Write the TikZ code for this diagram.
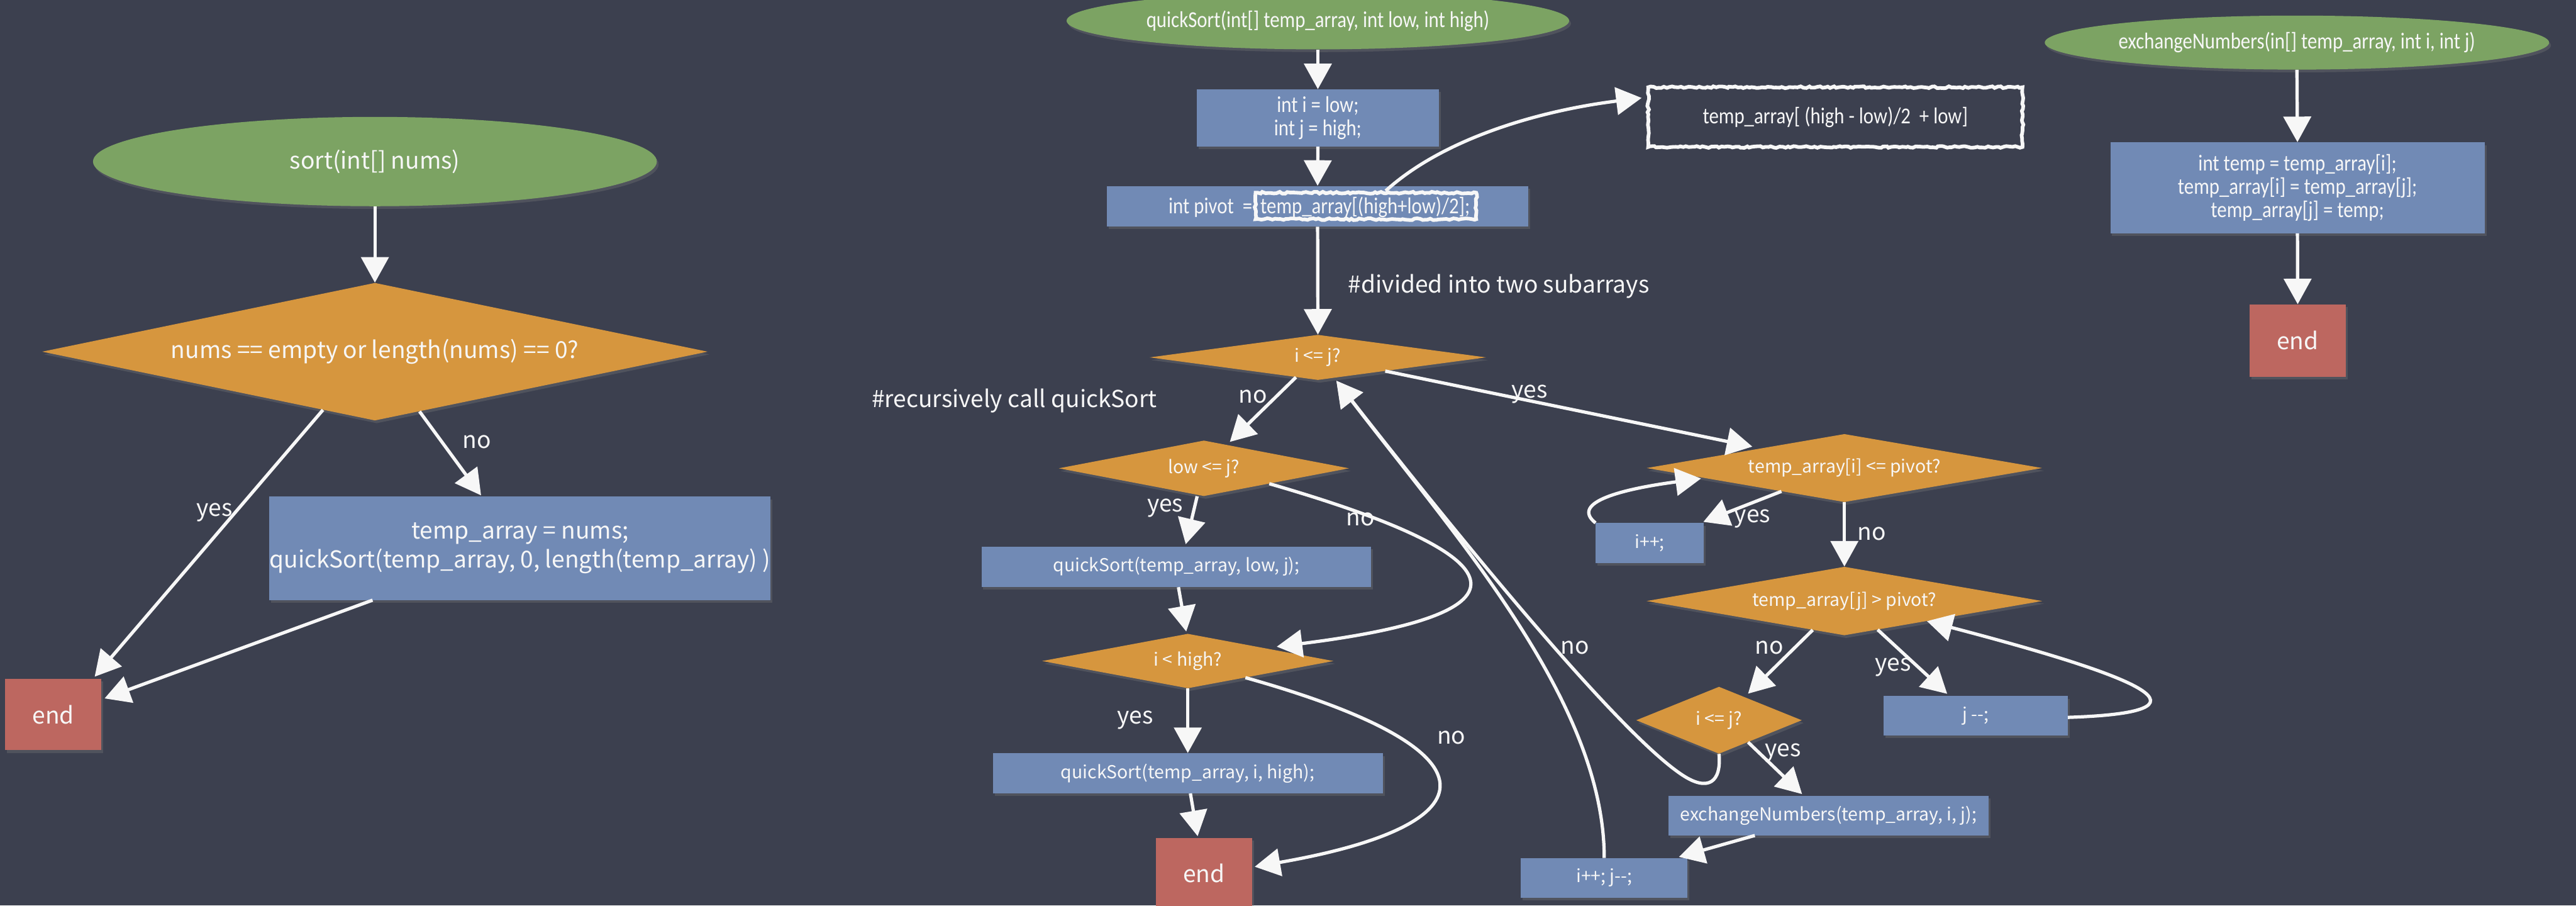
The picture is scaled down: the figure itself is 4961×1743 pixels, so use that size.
\documentclass[tikz,border=0pt]{standalone}
\usepackage{fontspec}
\setmainfont{Noto Sans CJK KR}
\newfontfamily\narrowface[FakeStretch=0.85]{Carlito}
\usetikzlibrary{shapes.geometric,arrows.meta,calc,decorations.pathmorphing,shadows}

\definecolor{board}{RGB}{60,64,79}
\definecolor{leaf}{RGB}{124,163,99}
\definecolor{amber}{RGB}{214,150,62}
\definecolor{slate}{RGB}{113,138,181}
\definecolor{brick}{RGB}{189,103,96}
\definecolor{chalk}{RGB}{247,247,247}

\begin{document}
\pgfmathsetseed{7}
\begin{tikzpicture}[
  x=0.02cm, y=-0.02cm,
  bigtxt/.style={font=\fontsize{25.6}{32}\selectfont},
  midtxt/.style={font=\fontsize{19.6}{25}\selectfont},
  condtxt/.style={font=\narrowface\fontsize{25}{25}\selectfont},
  base/.style={text=chalk, align=center, inner sep=0pt},
  shade/.style={drop shadow={shadow xshift=2pt, shadow yshift=-3pt, opacity=0.3}},
  startnode/.style={base, ellipse, fill=leaf, shade},
  decision/.style={base, diamond, fill=amber, shade},
  process/.style={base, rectangle, fill=slate, shade},
  stopnode/.style={base, rectangle, fill=brick, bigtxt, shade},
  flow/.style={draw=chalk, line width=3.6pt, -{Triangle[length=28pt,width=30pt]}},
  chalkrect/.style={draw=chalk, line width=4pt, decorate,
    decoration={random steps, segment length=3pt, amplitude=1pt}},
  lbl/.style={text=chalk, bigtxt, inner sep=0pt},
]
\useasboundingbox (0,0) rectangle (4961,1743);
\clip (0,0) rectangle (4961,1743);
\fill[board] (0,0) rectangle (4961,1743);

% ---------------- sort(int[] nums) ----------------
\node[startnode, bigtxt, minimum width=21.72cm, minimum height=3.44cm] (s0) at (722,311) {sort(int[] nums)};
\node[decision, bigtxt, aspect=4.84, minimum width=25.64cm, minimum height=5.30cm] (s1) at (722,677) {nums == empty or length(nums) == 0?};
\node[process, bigtxt, minimum width=18.74cm, minimum height=3.98cm] (s2) at (1001.5,1055.5) {temp\_array = nums;\\quickSort(temp\_array, 0, length(temp\_array) )};
\node[stopnode, minimum width=3.70cm, minimum height=2.74cm] (s3) at (102.5,1375.5) {end};

\draw[flow] (s0.south) -- (s1.north);
\draw[flow] ($(s1.south)!0.156!(s1.west)$) -- ($(s3.north east)+(-13,-4)$);
\draw[flow] ($(s1.south)!0.134!(s1.east)$) -- ($(s2.north)+(-75,-2)$);
\draw[flow] ($(s2.south)+(-284,0)$) -- ($(s3.east)+(6,-31)$);
\node[lbl] (l1) at (413,986) {yes};
\node[lbl] (l2) at (918,851) {no};

% ---------------- quickSort(...) ----------------
\node[startnode, condtxt, minimum width=19.36cm, minimum height=2.20cm] (q0) at (2538,40) {quickSort(int[] temp\_array, int low, int high)};
\node[process, condtxt, minimum width=9.32cm, minimum height=2.20cm] (q1) at (2538,227) {int i = low;\\int j = high;};
\node[process, minimum width=16.22cm, minimum height=1.56cm] (q2) at (2537.5,397) {};
\node[base, condtxt, anchor=base east] (pv) at (2412,411) {int pivot\ \ =};
\node[base, condtxt, anchor=base west] (pe) at (2427,411) {temp\_array[(high+low)/2];};
\node[chalkrect, minimum width=8.50cm, minimum height=1.02cm] (hl) at (2630.5,396.5) {};

\node[chalkrect, condtxt, text=chalk, minimum width=14.42cm, minimum height=2.30cm] (r1) at (3534.5,225.5) {temp\_array[ (high - low)/2\ \ + low]};

\coordinate (hlout) at ($(hl.north)+(38,0)$);
\coordinate (r1in) at ($(r1.west)+(-9,-37)$);
\draw[flow] (hlout) .. controls ($(hlout)+(110,-100)$) and ($(r1in)+(-200,25)$) .. (r1in);

\node[lbl] (c1) at (2886.5,551) {\#divided into two subarrays};
\node[lbl] (c2) at (1953.5,771) {\#recursively call quickSort};

\node[decision, midtxt, aspect=7.45, minimum width=12.96cm, minimum height=1.74cm] (d1) at (2538,688) {i <= j?};
\node[decision, midtxt, aspect=5.22, minimum width=11.18cm, minimum height=2.14cm] (d2) at (2318.5,901.5) {low <= j?};
\node[process, midtxt, minimum width=15.02cm, minimum height=1.56cm] (q3) at (2265.5,1091) {quickSort(temp\_array, low, j);};
\node[decision, midtxt, aspect=5.34, minimum width=11.22cm, minimum height=2.10cm] (d3) at (2287.5,1272.5) {i < high?};
\node[process, midtxt, minimum width=15.02cm, minimum height=1.54cm] (q4) at (2287.5,1488.5) {quickSort(temp\_array, i, high);};
\node[stopnode, minimum width=3.70cm, minimum height=2.74cm] (e2) at (2318.5,1681.5) {end};

\node[decision, midtxt, aspect=5.82, minimum width=15.24cm, minimum height=2.62cm] (d4) at (3552,901) {temp\_array[i] <= pivot?};
\node[process, midtxt, minimum width=4.16cm, minimum height=1.54cm] (b1) at (3177,1045.5) {i++;};
\node[decision, midtxt, aspect=5.77, minimum width=15.24cm, minimum height=2.64cm] (d5) at (3552,1157) {temp\_array[j] > pivot?};
\node[decision, midtxt, aspect=2.47, minimum width=6.38cm, minimum height=2.58cm] (d6) at (3310.5,1386.5) {i <= j?};
\node[process, midtxt, minimum width=7.08cm, minimum height=1.52cm] (b2) at (3805,1378) {j -{}-;};
\node[process, midtxt, minimum width=12.34cm, minimum height=1.52cm] (b3) at (3521.5,1570) {exchangeNumbers(temp\_array, i, j);};
\node[process, midtxt, minimum width=6.42cm, minimum height=1.52cm] (b4) at (3089.5,1690) {i++; j-{}-;};

\draw[flow] (q0.south) -- (q1.north);
\draw[flow] (q1.south) -- (q2.north);
\draw[flow] (q2.south) -- (d1.north);

\draw[flow] ($(d1.south)!0.13!(d1.west)$) -- ($(d2.north)+(50,3)$);
\draw[flow] ($(d2.south)+(-13,0)$) -- ($(q3.north)+(18,-4)$);
\coordinate (d2out) at ($(d2.south)!0.45!(d2.east)$);
\coordinate (d3in) at ($(d3.north)!0.61!(d3.east)+(0,-7)$);
\draw[flow] (d2out) .. controls ($(d2out)+(520,150)$) and ($(d3in)+(480,-60)$) .. (d3in);
\draw[flow] ($(q3.south)+(4,0)$) -- ($(d3.north)+(-3,-4)$);
\draw[flow] (d3.south) -- (q4.north);
\coordinate (d3out) at ($(d3.south)!0.395!(d3.east)$);
\coordinate (e2in) at ($(e2.east)+(5,-13)$);
\draw[flow] (d3out) .. controls ($(d3out)+(500,140)$) and ($(e2in)+(460,-80)$) .. (e2in);
\draw[flow] ($(q4.south)+(5,0)$) -- ($(e2.north)+(-12,-3)$);

\draw[flow] ($(d1.south)!0.4!(d1.east)$) -- ($(d4.north)!0.465!(d4.west)+(0,-6)$);
\draw[flow] ($(d4.south)!0.318!(d4.west)$) -- ($(b1.north east)+(-1,-2)$);
\coordinate (d4in) at ($(d4.west)!0.276!(d4.south)+(0,2)$);
\draw[flow] (b1.north west) .. controls ($(b1.north west)+(-50,-40)$) and ($(d4in)+(-150,20)$) .. (d4in);
\draw[flow] (d4.south) -- (d5.north);
\draw[flow] ($(d5.south)!0.16!(d5.west)$) -- ($(d6.north)!0.35!(d6.east)+(0,-9)$);
\draw[flow] ($(d5.south)!0.168!(d5.east)$) -- ($(b2.north)+(-55,-4)$);
\coordinate (b2out) at ($(b2.east)+(0,3)$);
\coordinate (d5in) at ($(d5.south)!0.417!(d5.east)$);
\draw[flow] (b2out) .. controls ($(b2out)+(300,-10)$) and ($(d5in)+(420,110)$) .. (d5in);
\draw[flow] ($(d6.south)!0.35!(d6.east)$) -- ($(b3.north)+(-51,-3)$);
\draw[flow] ($(b3.south)+(-142,0)$) -- ($(b4.north east)+(-17,-2)$);

\coordinate (back) at ($(d1.south)!0.11!(d1.east)+(0,6)$);
\coordinate (hook) at (3240,1492);
\draw[flow] (b4.north) .. controls ($(b4.north)+(0,-300)$) and ($(back)+(230,300)$) .. (back);
\draw[flow] (d6.south) .. controls ($(d6.south)+(5,54)$) and ($(hook)+(50,33)$) .. (hook)
  .. controls ($(hook)+(-140,-92)$) and ($(back)+(146,187)$) .. (back);

\node[lbl] (l3) at (2413,764) {no};
\node[lbl] (l4) at (2244,978) {yes};
\node[lbl] (l5) at (2620,1000) {no};
\node[lbl] (l6) at (2186,1386) {yes};
\node[lbl] (l7) at (2795,1420) {no};
\node[lbl] (l8) at (2946,759) {yes};
\node[lbl] (l9) at (3375,999) {yes};
\node[lbl] (l10) at (3605,1028) {no};
\node[lbl] (l11) at (3407,1247) {no};
\node[lbl] (l12) at (3646,1284) {yes};
\node[lbl] (l13) at (3434,1449) {yes};
\node[lbl] (l14) at (3033,1247) {no};

% ---------------- exchangeNumbers(...) ----------------
\node[startnode, condtxt, minimum width=19.34cm, minimum height=2.08cm] (x0) at (4423.5,82) {exchangeNumbers(in[] temp\_array, int i, int j)};
\node[process, condtxt, font=\narrowface\fontsize{25}{25.6}\selectfont, minimum width=14.42cm, minimum height=3.50cm] (x1) at (4424.5,361.5) {int temp = temp\_array[i];\\temp\_array[i] = temp\_array[j];\\temp\_array[j] = temp;};
\node[stopnode, minimum width=3.72cm, minimum height=2.78cm] (x2) at (4425,655.5) {end};
\draw[flow] (x0.south) -- (x1.north);
\draw[flow] (x1.south) -- (x2.north);
\end{tikzpicture}
\end{document}
